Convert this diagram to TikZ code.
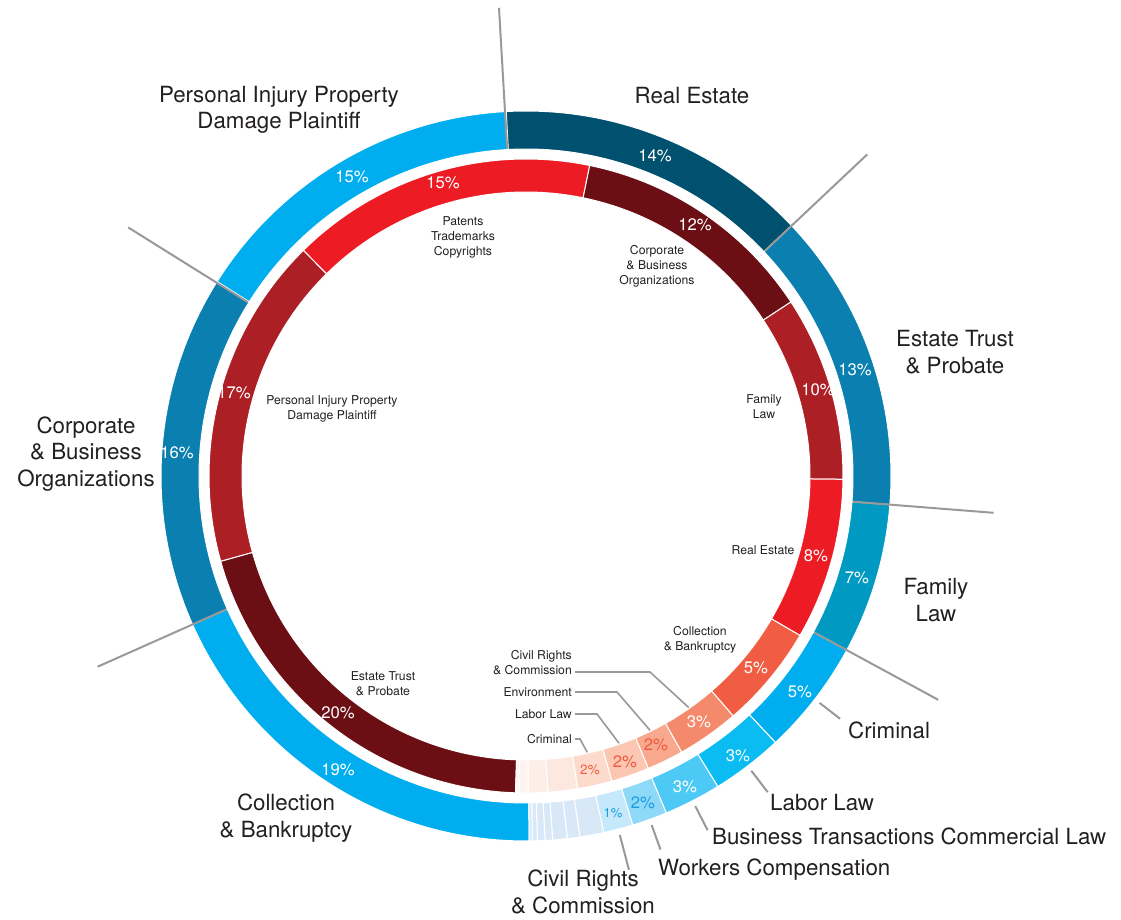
\documentclass[tikz,border=0pt]{standalone}
\usepackage{fontspec}
\setmainfont{TeX Gyre Heros}
\definecolor{oA}{HTML}{00AEEF}
\definecolor{oB}{HTML}{0A7FB0}
\definecolor{oC}{HTML}{00516F}
\definecolor{oD}{HTML}{0099C2}
\definecolor{oE}{HTML}{0BBCF2}
\definecolor{oF}{HTML}{4CC9F4}
\definecolor{oG}{HTML}{8ED8F8}
\definecolor{oH}{HTML}{C5E9FB}
\definecolor{oI}{HTML}{D9E8F6}
\definecolor{iA}{HTML}{6B0F14}
\definecolor{iB}{HTML}{AB1F25}
\definecolor{iC}{HTML}{ED1C24}
\definecolor{iD}{HTML}{F15D43}
\definecolor{iE}{HTML}{F48A6B}
\definecolor{iF}{HTML}{F8A98D}
\definecolor{iG}{HTML}{FBC7B2}
\definecolor{iH}{HTML}{FCDBCD}
\definecolor{iI}{HTML}{FDE8DF}
\definecolor{iJ}{HTML}{FDEEE8}
\definecolor{iK}{HTML}{FEF3EE}
\definecolor{txt}{HTML}{231F20}
\definecolor{lead}{HTML}{999999}
\definecolor{bluetxt}{HTML}{1B9EE2}
\definecolor{redtxt}{HTML}{F05A40}
\newcommand{\ringseg}[5]{%
  \fill[#5, draw=white, line width=1pt] (#1:#4) arc[start angle=#1, end angle=#2, radius=#4] -- (#2:#3) arc[start angle=#2, end angle=#1, radius=#3] -- cycle;}
\newcommand{\outseg}[3]{\ringseg{#1}{#2}{327}{365}{#3}}
\newcommand{\inseg}[3]{\ringseg{#1}{#2}{284}{317}{#3}}
\begin{document}
\begin{tikzpicture}[x=1pt,y=1pt,
  big/.style={font=\fontsize{22.3}{26.5}\selectfont, align=center, text=txt, inner sep=0pt},
  bigl/.style={big, anchor=west},
  small/.style={font=\fontsize{12.2}{15}\selectfont, align=center, text=txt, inner sep=0pt},
  smallr/.style={small, align=right, anchor=east},
  pct/.style={font=\fontsize{16.7}{18}\selectfont, text=white, inner sep=0pt},
  radial/.style={draw=lead, line width=2pt},
  leader/.style={draw=lead, line width=2pt},
  ileader/.style={draw=lead, line width=1.6pt}]
\useasboundingbox (-526,-444) rectangle (595,476);
% outer ring
\outseg{270.5}{204}{oA}
\outseg{204}{147.8}{oB}
\outseg{147.8}{93.1}{oA}
\outseg{93.1}{43.3}{oC}
\outseg{43.3}{-4.5}{oB}
\outseg{-4.5}{-28.5}{oD}
\outseg{-28.5}{-46.9}{oA}
\outseg{-46.9}{-58.3}{oE}
\outseg{-58.3}{-67.4}{oF}
\outseg{-67.4}{-73.0}{oG}
\outseg{-73.0}{-77.7}{oH}
\outseg{-77.7}{-81.5}{oI}
\outseg{-81.5}{-83.5}{oI}
\outseg{-83.5}{-85.8}{oI}
\outseg{-85.8}{-87}{oI}
\outseg{-87}{-88.2}{oI}
\outseg{-88.2}{-89}{oI}
\outseg{-89}{-89.5}{oI}
% inner ring
\inseg{268.1}{195.6}{iA}
\inseg{195.6}{134.6}{iB}
\inseg{134.6}{78.4}{iC}
\inseg{78.4}{33.3}{iA}
\inseg{33.3}{-0.6}{iB}
\inseg{-0.6}{-30.2}{iC}
\inseg{-30.2}{-49.2}{iD}
\inseg{-49.2}{-60.6}{iE}
\inseg{-60.6}{-67.3}{iF}
\inseg{-67.3}{-74.3}{iG}
\inseg{-74.3}{-80.6}{iH}
\inseg{-80.6}{-86}{iI}
\inseg{-86}{-89.6}{iJ}
\inseg{-89.6}{-91.3}{iK}
\inseg{-91.3}{-91.9}{iK!60!white}
% radial separator lines
\foreach \a/\n in {93.3/t,43.3/r,-4.5/e,-28.5/f,148/p,204/c}{
  \coordinate (s\n) at (\a:328);
  \coordinate (e\n) at (\a:469);
  \draw[radial] (s\n) -- (e\n);
}
% outer percentages
\node[pct] (po19) at (-188,-294) {19\%};
\node[pct] (po16) at (-349,23) {16\%};
\node[pct] (po15) at (-174,299) {15\%};
\node[pct] (po14) at (129,320) {14\%};
\node[pct] (po13) at (329,106) {13\%};
\node[pct] (po7) at (331,-102) {7\%};
\node[pct] (po5) at (274,-216) {5\%};
\node[pct] (po3a) at (212,-280) {3\%};
\node[pct] (po3b) at (159,-311) {3\%};
\node[pct, text=bluetxt] (po2) at (117,-327) {2\%};
\node[pct, text=bluetxt, font=\fontsize{13}{15}\selectfont] (po1) at (87,-337) {1\%};
% inner percentages
\node[pct] (pi20) at (-188,-237) {20\%};
\node[pct] (pi17) at (-292,83) {17\%};
\node[pct] (pi15) at (-83,293) {15\%};
\node[pct] (pi12) at (169,251) {12\%};
\node[pct] (pi10) at (292,86) {10\%};
\node[pct] (pi8) at (290,-80) {8\%};
\node[pct] (pi5) at (230,-192) {5\%};
\node[pct] (pi3) at (173,-246) {3\%};
\node[pct, text=redtxt] (pi2a) at (130,-269) {2\%};
\node[pct, text=redtxt] (pi2b) at (99,-286) {2\%};
\node[pct, text=redtxt, font=\fontsize{13.5}{15}\selectfont] (pi2c) at (64,-294) {2\%};
% inner category labels
\node[small] (lpat) at (-63,239) {Patents\\Trademarks\\Copyrights};
\node[small] (lcorp) at (131,210) {Corporate\\\& Business\\Organizations};
\node[small] (lfam) at (238,69) {Family\\Law};
\node[small] (lre) at (237,-74) {Real Estate};
\node[small] (lcol) at (174,-164) {Collection\\\& Bankruptcy};
\node[small] (lpi) at (-194,67) {Personal Injury Property\\Damage Plaintiff};
\node[small] (lest) at (-143,-208) {Estate Trust\\\& Probate};
% inner small labels with elbow leaders
\node[smallr] (lciv) at (46,-187) {Civil Rights\\\& Commission};
\node[smallr] (lenv) at (46,-216) {Environment};
\node[smallr] (llab) at (46,-238) {Labor Law};
\node[smallr] (lcri) at (46,-263) {Criminal};
\coordinate (kciv) at (-54.9:283);
\coordinate (kenv) at (-64:283);
\coordinate (klab) at (-70.8:283);
\coordinate (kcri) at (-77.5:283);
\draw[ileader] ([xshift=3pt]lciv.east |- 0,-196) -- (124,-196) -- (kciv);
\draw[ileader] ([xshift=3pt]lenv.east) -- (91,-216) -- (kenv);
\draw[ileader] ([xshift=3pt]llab.east) -- (71,-238) -- (klab);
\draw[ileader] ([xshift=3pt]lcri.east) -- (54,-263) -- (kcri);
% outer big labels
\node[big] (Lre) at (166,380) {Real Estate};
\node[big] (Lpi) at (-247,366) {Personal Injury Property\\Damage Plaintiff};
\node[big] (Lest) at (429,124) {Estate Trust\\\& Probate};
\node[big] (Lcorp) at (-440,22) {Corporate\\\& Business\\Organizations};
\node[big] (Lfam) at (410,-124) {Family\\Law};
\node[big] (Lcol) at (-240,-342) {Collection\\\& Bankruptcy};
\node[bigl] (Lcri) at (322,-254) {Criminal};
\node[bigl] (Llab) at (244,-327) {Labor Law};
\node[bigl] (Lbus) at (186,-360) {Business Transactions Commercial Law};
\node[bigl] (Lwor) at (132,-394) {Workers Compensation};
\node[big] (Lciv) at (57,-416) {Civil Rights\\\& Commission};
% outer leaders
\foreach \a/\r/\n in {-37.7/397/cri,-52.6/398/lab,-62.85/398/bus,-70.2/397/wor,-75.35/407/civ}{
  \coordinate (o\n a) at (\a:371);
  \coordinate (o\n b) at (\a:\r);
  \draw[leader] (o\n a) -- (o\n b);
}
\end{tikzpicture}
\end{document}
